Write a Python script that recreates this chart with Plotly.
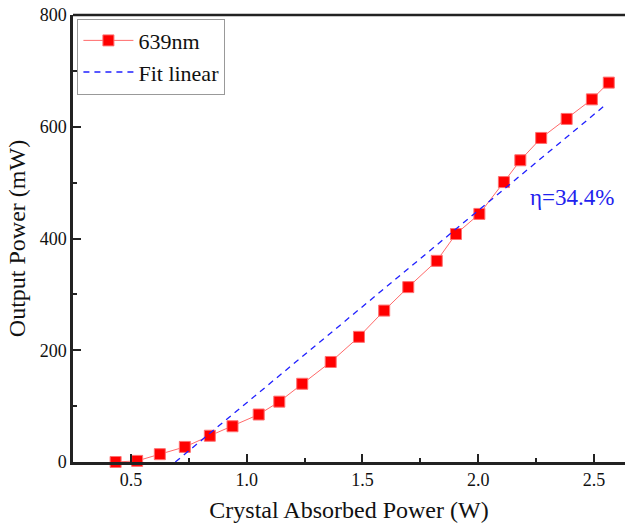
import plotly.graph_objects as go

# Data
absorbed_power_W = [0.434, 0.527, 0.625, 0.733, 0.841, 0.939, 1.052, 1.141, 1.240, 1.363, 1.485,
                    1.594, 1.698, 1.821, 1.904, 2.005, 2.111, 2.182, 2.272, 2.382, 2.491, 2.564]
output_power_mW = [0, 2, 14, 27, 47, 64, 85, 108, 140, 179, 224,
                   271, 313, 360, 408, 444, 501, 540, 580, 614, 649, 679]

# Linear fit (slope in mW/W, intercept in mW) and its drawn x-extent
fit_slope = 344.0
fit_intercept = -238.0
fit_x = [0.692, 2.555]
fit_y = [fit_slope * x + fit_intercept for x in fit_x]

x_ticks = [0.5, 1.0, 1.5, 2.0, 2.5]
y_ticks = [0, 200, 400, 600, 800]

FONT = "Liberation Serif"

fig = go.Figure()
fig.add_trace(go.Scatter(
    x=absorbed_power_W, y=output_power_mW, mode="lines+markers", name="639nm",
    line=dict(color="#ff6a6a", width=1),
    marker=dict(symbol="square", size=11, color="#ff0000", line=dict(color="#ff7070", width=1)),
    cliponaxis=False,
))
fig.add_trace(go.Scatter(
    x=fit_x, y=fit_y, mode="lines", name="Fit linear",
    line=dict(color="#2020ff", width=1.3, dash="6px,5px"),
))

fig.add_annotation(x=2.405, y=474, text="η=34.4%", showarrow=False,
                   font=dict(family=FONT, size=23, color="#2222ee"))

fig.add_shape(type="line", xref="paper", yref="paper", x0=0, x1=1, y0=1, y1=1,
              line=dict(color="#222222", width=2.5))

fig.update_layout(
    width=625, height=530,
    margin=dict(l=73, r=0, t=15, b=68),
    paper_bgcolor="white", plot_bgcolor="white",
    font=dict(family=FONT, color="#111111"),
    showlegend=True,
    legend=dict(x=0.008, y=0.992, xanchor="left", yanchor="top",
                bgcolor="white", bordercolor="#999999", borderwidth=1,
                font=dict(family=FONT, size=22, color="#111111"),
                itemwidth=50, tracegroupgap=0),
    xaxis=dict(
        range=[0.25, 2.634], tickvals=x_ticks, ticktext=[f"{v:.1f}" for v in x_ticks],
        showgrid=False, zeroline=False, showline=True, linecolor="#222222", linewidth=2.5,
        ticks="inside", ticklen=8, tickwidth=1.5, tickcolor="#222222",
        minor=dict(dtick=0.25, tick0=0.25, ticks="inside", ticklen=4, tickwidth=1.5, tickcolor="#222222"),
        tickfont=dict(family=FONT, size=18, color="#111111"),
        title=dict(text="Crystal Absorbed Power (W)", font=dict(family=FONT, size=24, color="#111111"), standoff=12),
    ),
    yaxis=dict(
        range=[0, 800], tickvals=y_ticks,
        showgrid=False, zeroline=False, showline=True, linecolor="#222222", linewidth=2.5,
        ticks="inside", ticklen=8, tickwidth=1.5, tickcolor="#222222",
        minor=dict(dtick=100, tick0=0, ticks="inside", ticklen=4, tickwidth=1.5, tickcolor="#222222"),
        tickfont=dict(family=FONT, size=18, color="#111111"),
        title=dict(text="Output Power (mW)", font=dict(family=FONT, size=24, color="#111111"), standoff=8),
    ),
)

fig.write_html("out.html")
